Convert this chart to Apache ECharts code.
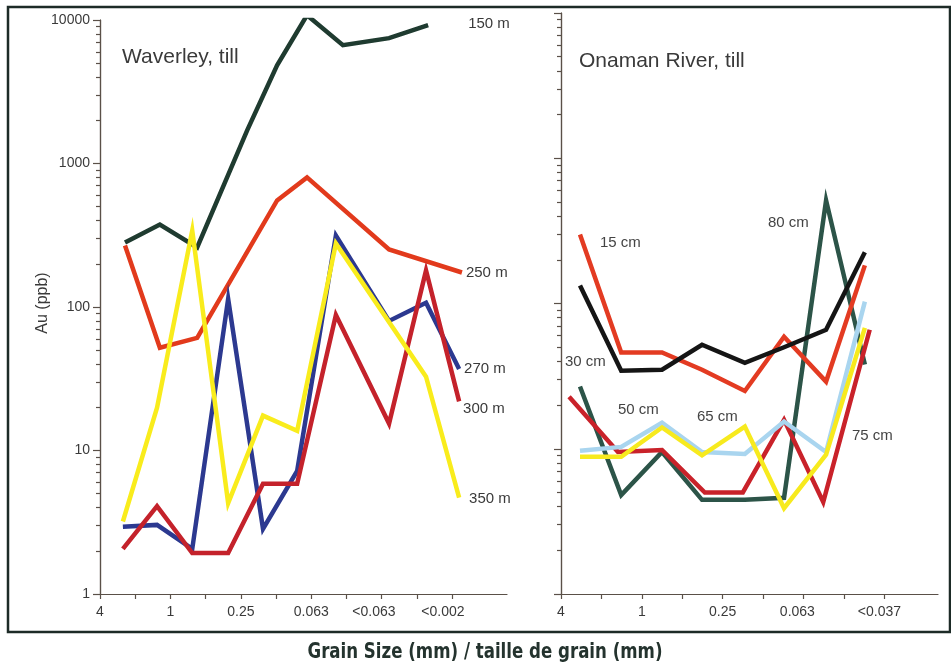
<!DOCTYPE html>
<html>
<head>
<meta charset="utf-8">
<title>Au (ppb) vs grain size</title>
<script src="https://cdn.jsdelivr.net/npm/echarts@6/dist/echarts.min.js"></script>
<style>
  html, body { margin: 0; padding: 0; background: #fff; }
  #chart { width: 951px; height: 668px; }
</style>
</head>
<body>
<div id="chart"></div>
<script>
// grain size tick labels (one label every two ticks)
const leftTicks = ['4', '1', '0.25', '0.063', '<0.063', '<0.002'];
const rightTicks = ['4', '1', '0.25', '0.063', '<0.037'];

// Waverley, till - sample positions along the grain size axis (tick units)
const waverleyXA = [0.71, 1.70, 2.76, 4.18, 5.03, 5.88, 6.90, 8.21, 9.32, 10.28];
const waverleyXB = [0.65, 1.62, 2.62, 3.64, 4.63, 5.60, 6.70, 8.21, 9.26, 10.20];
// Au (ppb), null = no sample at that position
const w150 = [281, 376, 260, 1700, 4840, 10800, 6670, 7470, 9200, null];
const w250 = [268, 52, 61, null, 553, 800, null, 252, null, 174];
const w270 = [2.94, 3.03, 2.06, 114, 2.84, 7.2, 315, 80, 107, 37];
const w300 = [2.06, 4.1, 1.93, 1.93, 5.86, 5.86, 88, 15.4, 180, 22];
const w350 = [3.2, 19.9, 341, 4.3, 17.5, 13.7, 277, null, 32.7, 4.7];

// Onaman River, till
const onamanX = [0.47, 1.49, 2.50, 3.49, 4.55, 5.52, 6.56, 7.52];
const onamanX75 = [0.20, 1.41, 2.50, 3.56, 4.50, 5.52, 6.49, 7.64];
const o15 = [299, 46, 46, 35, 25, 59, 29, 183];
const o30 = [133, 34.5, 35, 52, 39, 50, 66, 225];
const o50 = [9.7, 10.3, 15.1, 9.5, 9.2, 15.4, 9.5, 103];
const o65 = [8.8, 8.8, 14, 9.0, 14.2, 3.9, 9.1, 68];
const o75 = [22.8, 9.5, 9.8, 5.0, 5.0, 15.8, 4.3, 66];
const o80 = [26.8, 4.8, 9.5, 4.45, 4.45, 4.6, 513, 38];

const majorVals = [1, 10, 100, 1000, 10000];
const minorVals = [];
[1, 10, 100, 1000].forEach(d => { for (let k = 2; k <= 9; k++) minorVals.push(k * d); });

const font = '"Liberation Sans", Arial, sans-serif';
const axisColor = '#5a5048';
const textColor = '#3a3a3a';

// [x, y] pairs, missing samples dropped
function pairs(xs, ys) {
    return xs.map((x, i) => [x, ys[i]]).filter(p => p[1] != null);
}

function lineSeries(xi, yi, data, color, label, dist, dy) {
    const s = {
        type: 'line',
        xAxisIndex: xi,
        yAxisIndex: yi,
        data: data,
        symbol: 'none',
        lineStyle: { color: color, width: 4.5, join: 'miter' },
        itemStyle: { color: color },
        silent: true
    };
    if (label) {
        s.endLabel = {
            show: true,
            formatter: label,
            distance: dist,
            offset: [0, dy],
            color: textColor,
            fontSize: 15,
            fontFamily: font
        };
    }
    return s;
}

function xAxis(grid, max, ticks, labelAt, names) {
    return {
        type: 'value',
        gridIndex: grid,
        min: 0,
        max: max,
        axisLine: { show: true, lineStyle: { color: axisColor, width: 1.2 } },
        axisTick: { show: true, length: 5, customValues: ticks, lineStyle: { color: axisColor, width: 1.2 } },
        axisLabel: {
            customValues: labelAt,
            formatter: v => names[labelAt.indexOf(v)],
            margin: 11,
            color: textColor,
            fontSize: 14,
            fontFamily: font
        },
        splitLine: { show: false }
    };
}

function yAxis(grid, showLabel, ticks, len) {
    return {
        type: 'log',
        logBase: 10,
        gridIndex: grid,
        position: 'left',
        min: 1,
        max: 10000,
        axisLine: { show: true, lineStyle: { color: axisColor, width: 1.2 } },
        axisTick: { show: true, length: len, customValues: ticks, lineStyle: { color: axisColor, width: 1.2 } },
        axisLabel: {
            show: showLabel,
            customValues: majorVals,
            formatter: v => String(v),
            margin: 10,
            color: textColor,
            fontSize: 14,
            fontFamily: font
        },
        splitLine: { show: false }
    };
}

const labelText = (x, y, text) => ({
    type: 'text', x: x, y: y, z: 10,
    style: { text: text, fill: '#444', font: '15px ' + font, verticalAlign: 'middle' }
});

const chart = echarts.init(document.getElementById('chart'));
chart.setOption({
    animation: false,
    backgroundColor: '#fff',
    grid: [
        { left: 100, top: 20, width: 407, height: 574 },
        { left: 561, top: 13, width: 377, height: 581 }
    ],
    title: [
        { text: 'Waverley, till', left: 122, top: 47, padding: 0, textStyle: { color: textColor, fontSize: 21, fontWeight: 'normal', fontFamily: font } },
        { text: 'Onaman River, till', left: 579, top: 51, padding: 0, textStyle: { color: textColor, fontSize: 21, fontWeight: 'normal', fontFamily: font } }
    ],
    xAxis: [
        xAxis(0, 11.56, [0, 1, 2, 3, 4, 5, 6, 7, 8, 9, 10], [0, 2, 4, 6, 7.78, 9.74], leftTicks),
        xAxis(1, 9.33, [0, 1, 2, 3, 4, 5, 6, 7, 8], [0, 2, 4, 5.85, 7.88], rightTicks)
    ],
    yAxis: [
        yAxis(0, true, majorVals, 7),
        yAxis(0, false, minorVals, 4),
        yAxis(1, false, majorVals, 7),
        yAxis(1, false, minorVals, 4)
    ],
    series: [
        lineSeries(0, 0, pairs(waverleyXA, w150), '#1f3b30', '150 m', 40, -1),
        lineSeries(0, 0, pairs(waverleyXA, w250), '#e23a1c', '250 m', 4, 0),
        lineSeries(0, 0, pairs(waverleyXB, w270), '#2c3990', '270 m', 5, 0),
        lineSeries(0, 0, pairs(waverleyXB, w300), '#c4222b', '300 m', 4, 7),
        lineSeries(0, 0, pairs(waverleyXB, w350), '#f9ec1c', '350 m', 10, 1),
        lineSeries(1, 2, pairs(onamanX, o80), '#2c5448'),
        lineSeries(1, 2, pairs(onamanX75, o75), '#c9222a'),
        lineSeries(1, 2, pairs(onamanX, o50), '#a9d5ef'),
        lineSeries(1, 2, pairs(onamanX, o65), '#f7ea1e'),
        lineSeries(1, 2, pairs(onamanX, o15), '#e33b22'),
        lineSeries(1, 2, pairs(onamanX, o30), '#151515')
    ],
    graphic: [
        // outer frame
        { type: 'rect', z: -1, shape: { x: 8, y: 7, width: 942, height: 625 }, style: { fill: 'none', stroke: '#1d2b27', lineWidth: 2.5 } },
        {
            type: 'text', x: 43, y: 303, rotation: Math.PI / 2,
            style: { text: 'Au (ppb)', fill: textColor, font: '16px ' + font, align: 'center', verticalAlign: 'middle' }
        },
        {
            type: 'text', x: 485, y: 652, scaleX: 0.84,
            style: { text: 'Grain Size (mm) / taille de grain (mm)', fill: '#24332e', font: 'bold 22px "Liberation Sans Narrow", "DejaVu Sans Condensed", sans-serif', align: 'center', verticalAlign: 'middle' }
        },
        labelText(600, 243, '15 cm'),
        labelText(565, 362, '30 cm'),
        labelText(618, 410, '50 cm'),
        labelText(697, 417, '65 cm'),
        labelText(852, 436, '75 cm'),
        labelText(768, 223, '80 cm')
    ]
});
</script>
</body>
</html>
